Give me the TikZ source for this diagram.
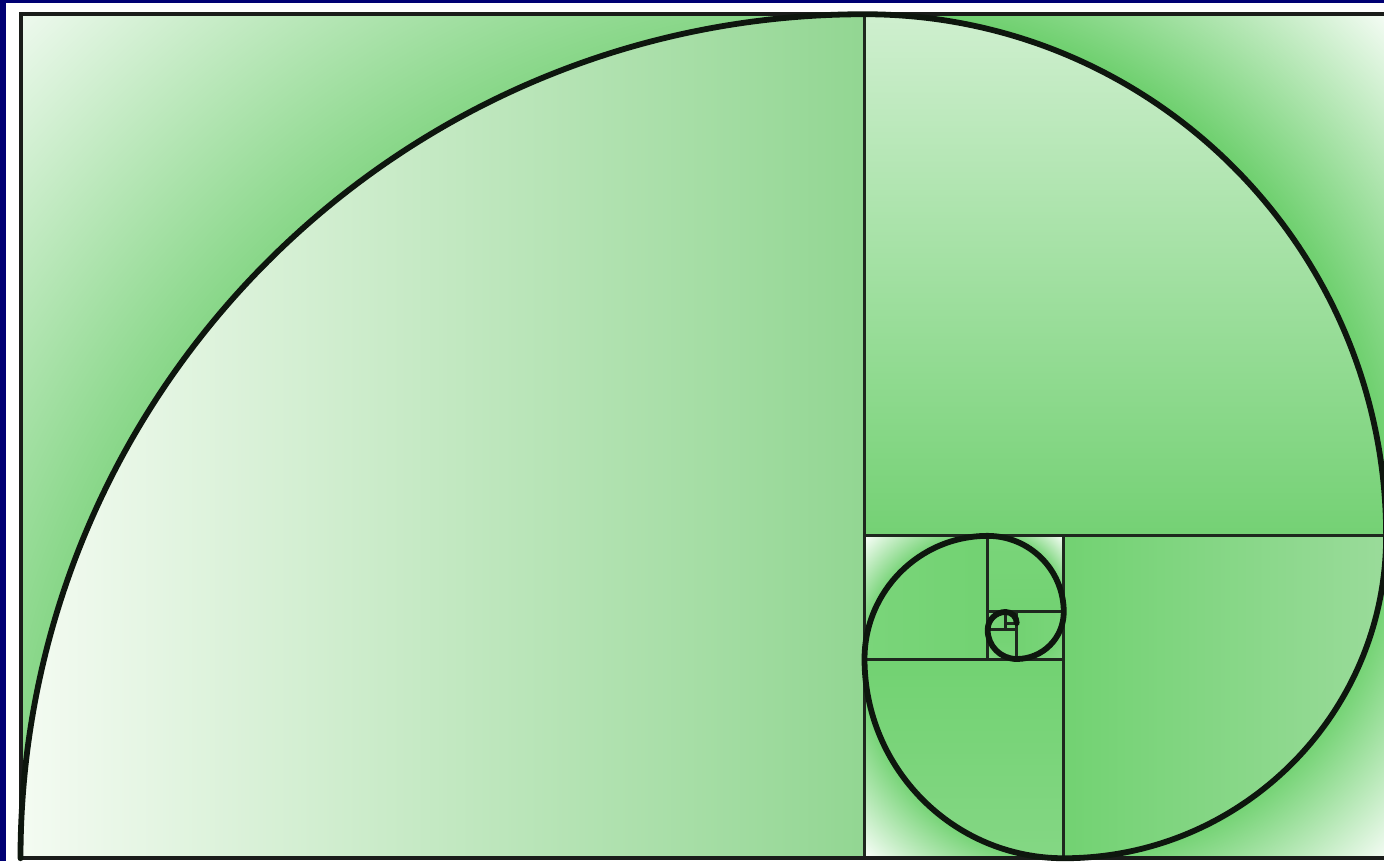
\documentclass[tikz,border=0pt]{standalone}
\usetikzlibrary{calc}
\definecolor{navy}{HTML}{000073}
\definecolor{sqline}{HTML}{1E281E}
\definecolor{frameline}{HTML}{1A1C1A}
\definecolor{spiralcol}{HTML}{0E160E}
% sector colours
\definecolor{lA}{HTML}{F4FBF2}\definecolor{gA}{HTML}{92D692}
\definecolor{lB}{HTML}{CFEFCF}\definecolor{gB}{HTML}{74D174}
\definecolor{lC}{HTML}{9ADB9A}\definecolor{gC}{HTML}{72D272}
\definecolor{lD}{HTML}{84D784}\definecolor{gD}{HTML}{72D272}
\definecolor{lS}{HTML}{7AD57A}\definecolor{gS}{HTML}{72D272}
% corner colours
\definecolor{cAg}{HTML}{86D686}\definecolor{cAw}{HTML}{EEF9EE}
\definecolor{cBg}{HTML}{6CCF6C}\definecolor{cBw}{HTML}{F5FCF5}
\definecolor{cCg}{HTML}{72D272}\definecolor{cCw}{HTML}{F5FCF5}
\definecolor{cSg}{HTML}{72D272}\definecolor{cSw}{HTML}{FBFFFB}
\definecolor{cGg}{HTML}{72D272}\definecolor{cGw}{HTML}{86D886}
\pgfdeclareradialshading{cornerA}{\pgfpointorigin}{color(0bp)=(cAg); color(17.6bp)=(cAg); color(25bp)=(cAw); color(50bp)=(cAw)}
\pgfdeclareradialshading{cornerB}{\pgfpointorigin}{color(0bp)=(cBg); color(17.6bp)=(cBg); color(25bp)=(cBw); color(50bp)=(cBw)}
\pgfdeclareradialshading{cornerC}{\pgfpointorigin}{color(0bp)=(cCg); color(17.6bp)=(cCg); color(25bp)=(cCw); color(50bp)=(cCw)}
\pgfdeclareradialshading{cornerS}{\pgfpointorigin}{color(0bp)=(cSg); color(17.6bp)=(cSg); color(25bp)=(cSw); color(50bp)=(cSw)}
\pgfdeclareradialshading{cornerG}{\pgfpointorigin}{color(0bp)=(cGg); color(17.6bp)=(cGg); color(25bp)=(cGw); color(50bp)=(cGw)}
\tikzset{
  sqedge/.style={draw=sqline, line width=1.5pt},
  frameedge/.style={draw=frameline, line width=2pt},
  spiralline/.style={draw=spiralcol, line width=2.9pt, line join=round, line cap=round},
}
% #1 cx, #2 cy, #3 side, #4 start angle, #5 shading angle, #6 light, #7 green, #8 corner shading
\newcommand{\goldsq}[8]{%
  \pgfmathsetmacro\angB{#4-90}%
  \pgfmathsetmacro\angC{#4-180}%
  \begin{scope}
    \clip (#1,#2) -- ++(#4:#3) -- ++(\angB:#3) -- ++(\angC:#3) -- cycle;
    \shade[shading=#8] (#1,#2) circle[radius=1.41421*#3];
  \end{scope}
  \shade[top color=#6, bottom color=#7, shading angle=#5]
    (#1,#2) -- ++(#4:#3) arc[start angle=#4, end angle=\angB, radius=#3] -- cycle;
}
\newcommand{\goldsqedge}[4]{%
  \pgfmathsetmacro\angB{#4-90}%
  \pgfmathsetmacro\angC{#4-180}%
  \path[sqedge] (#1,#2) -- ++(#4:#3) -- ++(\angB:#3) -- ++(\angC:#3) -- cycle;
}
\begin{document}
\begin{tikzpicture}[x=0.5pt,y=0.5pt]
\useasboundingbox (0,0) rectangle (1384,861);
\clip (0,0) rectangle (1384,861);
\fill[navy] (0,0) rectangle (1384,861);
\fill[white] (6,0) rectangle (1390,858);
% shaded squares
\goldsq{864.5}{2.75}{844}{180}{90}{lA}{gA}{cornerA}
\goldsq{864.5}{325.12}{521.63}{90}{0}{lB}{gB}{cornerB}
\goldsq{1063.75}{325.12}{322.38}{0}{-90}{lC}{gC}{cornerC}
\goldsq{1063.75}{201.98}{199.24}{-90}{-180}{lD}{gD}{cornerS}
\goldsq{987.65}{201.98}{123.14}{180}{90}{lS}{gS}{cornerS}
\goldsq{987.65}{249.02}{76.10}{90}{0}{lS}{gS}{cornerS}
\goldsq{1016.72}{249.02}{47.03}{0}{-90}{lS}{gS}{cornerG}
\goldsq{1016.72}{231.06}{29.07}{-90}{-180}{lS}{gS}{cornerG}
\goldsq{1005.62}{231.06}{17.97}{180}{90}{lS}{gS}{cornerG}
\fill[gS] (1005.62,231.06) rectangle (1016.72,249.03);
% square edges
\goldsqedge{864.5}{2.75}{844}{180}
\goldsqedge{864.5}{325.12}{521.63}{90}
\goldsqedge{1063.75}{325.12}{322.38}{0}
\goldsqedge{1063.75}{201.98}{199.24}{-90}
\goldsqedge{987.65}{201.98}{123.14}{180}
\goldsqedge{987.65}{249.02}{76.10}{90}
\goldsqedge{1016.72}{249.02}{47.03}{0}
\goldsqedge{1016.72}{231.06}{29.07}{-90}
\goldsqedge{1005.62}{231.06}{17.97}{180}
\goldsqedge{1005.62}{237.93}{11.10}{90}
% outer frame
\path[frameedge] (20.5,2.75) rectangle (1386.13,846.75);
% spiral
\path[spiralline] (20.5,2.75)
  arc[start angle=180, end angle=90, radius=844]
  arc[start angle=90, end angle=0, radius=521.63]
  arc[start angle=0, end angle=-90, radius=322.38]
  arc[start angle=-90, end angle=-180, radius=199.24]
  arc[start angle=180, end angle=90, radius=123.14]
  arc[start angle=90, end angle=0, radius=76.10]
  arc[start angle=0, end angle=-90, radius=47.03]
  arc[start angle=-90, end angle=-180, radius=29.07]
  arc[start angle=180, end angle=90, radius=17.97]
  arc[start angle=90, end angle=0, radius=11.10];
\end{tikzpicture}
\end{document}
